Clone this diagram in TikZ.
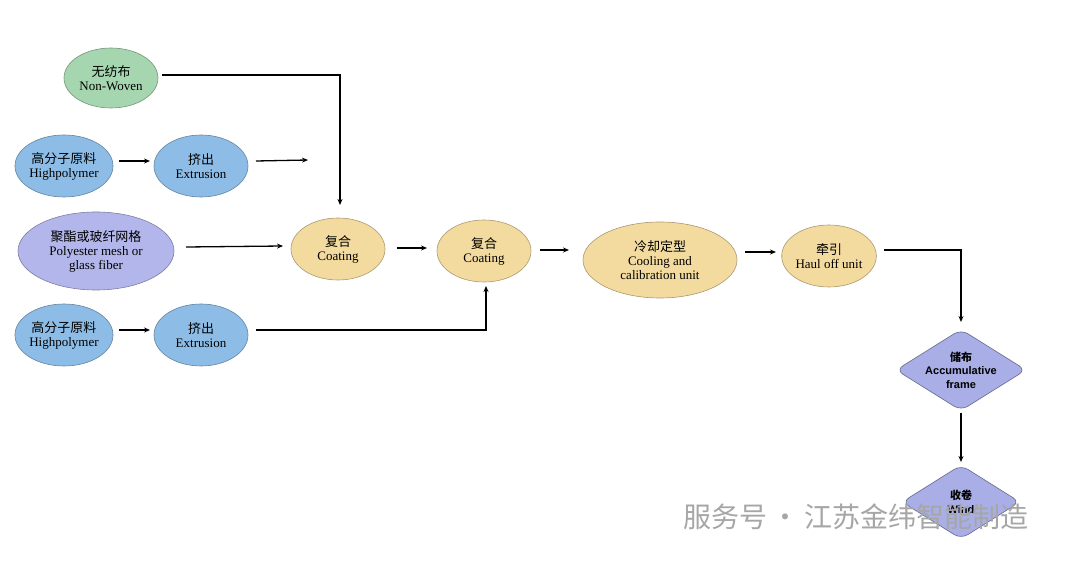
\documentclass[tikz,border=0pt]{standalone}
\usepackage{fontspec}
\setmainfont{Liberation Serif}
\newfontfamily\cjk{Noto Sans CJK SC}
\newfontfamily\sansf{Liberation Sans}
\usetikzlibrary{shapes.geometric,arrows.meta}
\definecolor{gfill}{HTML}{A6D6B0}
\definecolor{bfill}{HTML}{8DBDE6}
\definecolor{pfill}{HTML}{B3B6EA}
\definecolor{yfill}{HTML}{F3DBA0}
\definecolor{dfill}{HTML}{A9AEE6}
\tikzset{
 ell/.style={ellipse,draw=#1!70!black,fill=#1,line width=0.6pt,inner sep=0pt,align=center,font=\fontsize{13}{14}\selectfont},
 dia/.style={diamond,draw=dfill!60!black,fill=dfill,line width=0.6pt,inner sep=0pt,aspect=1.6,align=center,font=\sansf\bfseries\fontsize{11}{13.5}\selectfont,rounded corners=8pt},
 arr/.style={-{Stealth[length=6pt,width=5pt]},line width=1.3pt,black}
}
\begin{document}
\begin{tikzpicture}[x=1pt,y=-1pt]
\useasboundingbox (0,0) rectangle (1080,561);
\fill[white] (0,0) rectangle (1080,561);
\node[ell=gfill,minimum width=94,minimum height=60] (nw) at (111,78) {{\cjk 无纺布}\\Non-Woven};
\node[ell=bfill,minimum width=94,minimum height=62] (hp1) at (64,166) {{\cjk 高分子原料}\\Highpolymer};
\node[ell=bfill,minimum width=94,minimum height=62] (ex1) at (201,166) {{\cjk 挤出}\\Extrusion};
\node[ell=pfill,minimum width=156,minimum height=78] (pes) at (96,251) {{\cjk 聚酯或玻纤网格}\\Polyester mesh or\\glass fiber};
\node[ell=bfill,minimum width=94,minimum height=62] (hp2) at (64,335) {{\cjk 高分子原料}\\Highpolymer};
\node[ell=bfill,minimum width=94,minimum height=62] (ex2) at (201,335) {{\cjk 挤出}\\Extrusion};
\node[ell=yfill,minimum width=94,minimum height=62] (c1) at (338,249) {{\cjk 复合}\\Coating};
\node[ell=yfill,minimum width=94,minimum height=62] (c2) at (484,251) {{\cjk 复合}\\Coating};
\node[ell=yfill,minimum width=154,minimum height=76] (cool) at (660,260) {{\cjk 冷却定型}\\Cooling and\\calibration unit};
\node[ell=yfill,minimum width=94,minimum height=62] (haul) at (829,256) {{\cjk 牵引}\\Haul off unit};
\node[dia,minimum width=118,minimum height=74] (acc) at (961,370) {{\cjk 储布}\\Accumulative\\frame};
\node[dia,minimum width=118,minimum height=74] (wind) at (961,502) {{\cjk 收卷}\\Wind};
\coordinate (a1s) at (119,161); \coordinate (a1e) at (150,161);
\coordinate (a2s) at (256,161); \coordinate (a2e) at (308,160);
\coordinate (a3s) at (162,75); \coordinate (a3e) at (340,205);
\coordinate (a4s) at (186,247); \coordinate (a4e) at (283,246);
\coordinate (a5s) at (397,248); \coordinate (a5e) at (427,248);
\coordinate (a6s) at (119,330); \coordinate (a6e) at (150,330);
\coordinate (a7s) at (256,330); \coordinate (a7e) at (486,286);
\coordinate (a8s) at (540,250); \coordinate (a8e) at (569,250);
\coordinate (a9s) at (745,252); \coordinate (a9e) at (776,252);
\coordinate (a10s) at (884,250); \coordinate (a10e) at (961,322);
\coordinate (a11s) at (961,413); \coordinate (a11e) at (961,462);
\draw[arr] (a1s) -- (a1e);
\draw[arr] (a2s) -- (a2e);
\draw[arr] (a3s) -| (a3e);
\draw[arr] (a4s) -- (a4e);
\draw[arr] (a5s) -- (a5e);
\draw[arr] (a6s) -- (a6e);
\draw[arr] (a7s) -| (a7e);
\draw[arr] (a8s) -- (a8e);
\draw[arr] (a9s) -- (a9e);
\draw[arr] (a10s) -| (a10e);
\draw[arr] (a11s) -- (a11e);
\node[text=black!35,font=\cjk\fontsize{28}{30}\selectfont,anchor=west,inner sep=0pt] (wm) at (683,517) {服务号\,·\,江苏金纬智能制造};
\end{tikzpicture}
\end{document}
